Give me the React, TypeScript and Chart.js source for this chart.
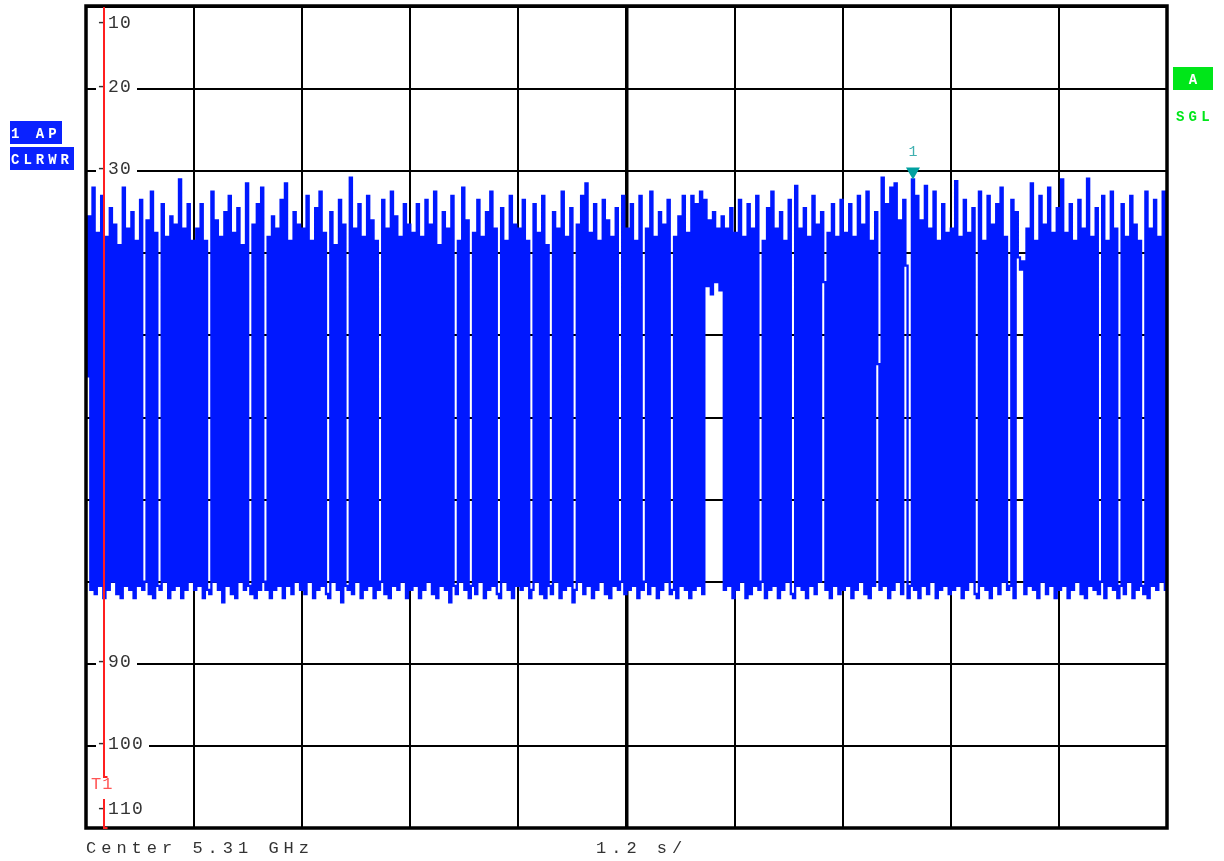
import React, { useEffect, useRef } from 'react';
import { Chart, registerables } from 'chart.js';

Chart.register(...registerables);

// Zero-span sweep: 1.2 s/div, 10 divisions
const SWEEP_TIME = 12;
const TIME_DIVS = [0, 1.2, 2.4, 3.6, 4.8, 6.0, 7.2, 8.4, 9.6, 10.8, 12.0];
const LEVEL_DIVS = [-10, -20, -30, -40, -50, -60, -70, -80, -90, -100, -110];
// level labels visible on the screen (the others are hidden beneath the trace)
const LEVEL_LABELS = ['-10', '-20', '-30', '', '', '', '', '', '-90', '-100', '-110'];

const T1_TIME = 0.2;
const MARKER_TIME = 9.18;
const MARKER_LEVEL = -31;

// Trace level (dBm) per sample, one array per time division
const div1 = [-55, -35.5, -81, -32, -81.5, -37.5, -80.5, -33, -82, -38, -81, -34.5, -80, -36.5, -81.5, -39, -82, -32, -80.5, -37, -81, -35, -82, -38.5, -80.5, -33.5, -81, -80, -36, -81.5, -32.5, -82, -37.5, -80.5, -81, -34, -80, -38, -82, -35.5, -81, -36.5, -80.5, -31, -82, -37, -81, -34, -80, -38.5];
const div2 = [-81, -37, -80.5, -34, -82, -38.5, -81, -81.5, -32.5, -80, -36, -81, -38, -82.5, -35, -80.5, -33, -81.5, -37.5, -82, -34.5, -80, -39, -81, -31.5, -80.5, -81.5, -36.5, -82, -34, -81, -32, -80, -81, -38, -82, -35.5, -81, -37, -80.5, -33.5, -82, -31.5, -80.5, -38.5, -81.5, -35, -80, -36.5, -81];
const div3 = [-37, -81.5, -33, -80, -38.5, -82, -34.5, -81, -32.5, -80.5, -37.5, -81.5, -82, -35, -80, -39, -81, -33.5, -82.5, -36.5, -80.5, -81, -30.8, -81.5, -37, -80, -34, -82, -38, -81, -33, -80.5, -36, -82, -38.5, -81, -80, -33.5, -81.5, -37, -82, -32.5, -80.5, -35.5, -81, -38, -80, -34, -82, -36.5];
const div4 = [-81, -37.5, -80.5, -34, -82, -38, -81, -33.5, -80, -36.5, -81.5, -32.5, -82, -39, -80.5, -35, -81, -37, -82.5, -33, -80.5, -81.5, -38.5, -80, -32, -81, -36, -82, -80.5, -37.5, -81.5, -33.5, -80, -38, -82, -35, -81, -32.5, -80.5, -37, -81.5, -82, -34.5, -80, -38.5, -81, -33, -82, -36.5, -80.5];
const div5 = [-37, -81, -33.5, -80.5, -38.5, -82, -81, -34, -80, -37.5, -81.5, -33, -82, -39, -80.5, -81.5, -35, -80, -37, -82, -32.5, -81, -38, -80.5, -34.5, -82.5, -81, -36.5, -80, -33, -81.5, -31.5, -80.5, -37.5, -82, -34, -81, -38.5, -80, -33.5, -81.5, -36, -82, -38, -80.5, -34.5, -81, -80, -33, -81.5];
const div6 = [-37, -81, -34, -80.5, -38.5, -82, -33, -81, -80, -37, -81.5, -32.5, -80.5, -38, -82, -35, -81, -36.5, -80, -33.5, -81.5, -81, -38, -82, -35.5, -80.5, -33, -81, -37.5, -82, -33, -81, -34, -80.5, -32.5, -81.5, -33.5, -44, -36, -45, -35, -43.5, -37, -44.5, -35.5, -81, -37, -80.5, -34.5, -82];
const div7 = [-37.5, -81, -33.5, -80, -38, -82, -34, -81.5, -37, -80.5, -33, -81, -80, -38.5, -82, -34.5, -81, -32.5, -80.5, -37, -82, -35, -81, -38.5, -80, -33.5, -81.5, -82, -31.8, -80.5, -37, -81, -34.5, -82, -38, -80.5, -33, -81.5, -36.5, -80, -35, -43.5, -81, -37.5, -82, -34, -80.5, -38, -81.5, -33.5];
const div8 = [-81, -37.5, -80.5, -34, -82, -38, -81, -33, -80, -36.5, -81.5, -32.5, -82, -38.5, -80.5, -35, -53.5, -81, -30.8, -80.5, -34, -82, -32, -81, -31.5, -80, -36, -81.5, -33.5, -41.5, -82, -80.5, -31, -81, -33, -82, -36, -80.5, -31.8, -81.5, -37, -80, -32.5, -82, -38.5, -81, -34, -80.5, -37.5, -81.5];
const div9 = [-37, -81, -31.2, -80.5, -38, -82, -33.5, -81, -37.5, -80, -34.5, -81.5, -82, -32.5, -80.5, -38.5, -81, -33, -82, -36.5, -80.5, -34, -81.5, -32, -80, -38, -81, -80.5, -33.5, -82, -35, -40.5, -42, -41, -81.5, -37, -80.5, -31.5, -81, -38.5, -82, -33, -80, -36.5, -81.5, -32, -80.5, -37.5, -82, -34.5];
const div10 = [-81, -31, -80.5, -37.5, -82, -34, -81, -38.5, -80, -33.5, -81.5, -37, -82, -30.9, -80.5, -38, -81, -34.5, -81.5, -80, -33, -82, -38.5, -80.5, -32.5, -81, -37, -82, -80.5, -34, -81.5, -38, -80, -33, -82, -36.5, -81, -38.5, -80.5, -81.5, -32.5, -82, -37, -80.5, -33.5, -81, -38, -80, -32.5, -81, -36];

const TRACE = [...div1, ...div2, ...div3, ...div4, ...div5, ...div6, ...div7, ...div8, ...div9, ...div10];

const TRACE_BLUE = '#0018ff';
const MONO = "'Liberation Mono', 'DejaVu Sans Mono', monospace";

const overlayPlugin = {
  id: 'saOverlay',
  beforeDatasetsDraw(chart: any) {
    const { ctx, scales } = chart;
    const y = scales.y;
    ctx.save();
    ctx.font = `18px ${MONO}`;
    (ctx as any).letterSpacing = '1.2px';
    ctx.textBaseline = 'alphabetic';
    LEVEL_DIVS.forEach((v, i) => {
      const text = LEVEL_LABELS[i];
      if (!text) return;
      const py = y.getPixelForValue(v);
      const base = i === 0 ? py + 21 : i === LEVEL_DIVS.length - 1 ? py - 14 : py + 3;
      const w = ctx.measureText(text).width;
      ctx.fillStyle = '#ffffff';
      ctx.fillRect(96, base - 14, w + 5, 17);
      ctx.fillStyle = '#333333';
      ctx.fillText(text, 96, base);
    });
    ctx.restore();
  },
  afterDatasetsDraw(chart: any) {
    const { ctx, chartArea, scales } = chart;
    const { left, right, top, bottom } = chartArea;
    const x = scales.x;
    const y = scales.y;
    ctx.save();

    // frame
    ctx.strokeStyle = '#000';
    ctx.lineWidth = 3.5;
    ctx.strokeRect(left, top - 1, right - left, bottom - top + 1);

    // T1 time line
    const tx = Math.round(x.getPixelForValue(T1_TIME));
    ctx.strokeStyle = '#ff1f1f';
    ctx.lineWidth = 2;
    ctx.beginPath();
    ctx.moveTo(tx, top);
    ctx.lineTo(tx, 777);
    ctx.lineTo(tx + 3.5, 777);
    ctx.moveTo(tx, 799);
    ctx.lineTo(tx, bottom);
    ctx.lineTo(tx + 3.5, bottom);
    ctx.stroke();
    ctx.font = `17px ${MONO}`;
    (ctx as any).letterSpacing = '1px';
    ctx.fillStyle = '#ff5555';
    ctx.textBaseline = 'alphabetic';
    ctx.fillText('T1', tx - 13, 789);

    // marker 1
    const mx = x.getPixelForValue(MARKER_TIME);
    const my = y.getPixelForValue(MARKER_LEVEL);
    ctx.fillStyle = '#00a0a0';
    ctx.beginPath();
    ctx.moveTo(mx - 7, my - 12);
    ctx.lineTo(mx + 7, my - 12);
    ctx.lineTo(mx, my);
    ctx.closePath();
    ctx.fill();
    ctx.font = `15px ${MONO}`;
    (ctx as any).letterSpacing = '0px';
    ctx.fillStyle = '#3fb0b0';
    ctx.textAlign = 'center';
    ctx.fillText('1', mx, my - 23);
    ctx.textAlign = 'left';

    // left trace info boxes
    ctx.fillStyle = '#0a22ff';
    ctx.fillRect(10, 121, 52, 23);
    ctx.fillRect(10, 147, 64, 23);
    ctx.font = `bold 14px ${MONO}`;
    (ctx as any).letterSpacing = '4px';
    ctx.fillStyle = '#ffffff';
    ctx.fillText('1 AP', 11, 138);
    ctx.fillText('CLRWR', 11, 163.5);

    // right status
    ctx.fillStyle = '#00e619';
    ctx.fillRect(1173, 67, 40, 23);
    ctx.fillStyle = '#ffffff';
    (ctx as any).letterSpacing = '0px';
    ctx.textAlign = 'center';
    ctx.fillText('A', 1193, 84);
    ctx.textAlign = 'left';
    (ctx as any).letterSpacing = '4.2px';
    ctx.fillStyle = '#00e619';
    ctx.fillText('SGL', 1176, 121);

    // bottom annotations
    ctx.font = `17px ${MONO}`;
    (ctx as any).letterSpacing = '5px';
    ctx.fillStyle = '#333333';
    ctx.fillText('Center 5.31 GHz', 86, 853);
    ctx.fillText('1.2 s/', 596, 853);

    ctx.restore();
  },
};

export default function App() {
  const canvasRef = useRef<HTMLCanvasElement | null>(null);

  useEffect(() => {
    const canvas = canvasRef.current;
    if (!canvas) return;
    const points = TRACE.map((v, i) => ({ x: (i * SWEEP_TIME) / (TRACE.length - 1), y: v }));
    const chart = new Chart(canvas, {
      type: 'line',
      data: {
        datasets: [
          {
            data: points,
            borderColor: TRACE_BLUE,
            borderWidth: 2.3,
            pointRadius: 0,
            stepped: true,
            fill: false,
            tension: 0,
          },
        ],
      },
      options: {
        animation: false,
        responsive: false,
        events: [],
        layout: { padding: { left: 86, right: 57, top: 7, bottom: 33 } },
        plugins: {
          legend: { display: false },
          tooltip: { enabled: false },
          title: { display: false },
        },
        scales: {
          x: {
            type: 'linear',
            min: 0,
            max: SWEEP_TIME,
            afterBuildTicks: (s: any) => {
              s.ticks = TIME_DIVS.map((v) => ({ value: v }));
            },
            ticks: { display: false },
            grid: {
              color: '#000',
              lineWidth: (c: any) => (c.tick && Math.abs(c.tick.value - 6) < 1e-6 ? 3.5 : 2),
              drawTicks: false,
            },
            border: { display: false },
          },
          y: {
            type: 'linear',
            min: -110,
            max: -10,
            afterBuildTicks: (s: any) => {
              s.ticks = LEVEL_DIVS.map((v) => ({ value: v }));
            },
            ticks: { display: false },
            grid: { color: '#000', lineWidth: 2, drawTicks: false },
            border: { display: false },
          },
        },
      } as any,
      plugins: [overlayPlugin],
    });
    return () => chart.destroy();
  }, []);

  return (
    <div style={{ position: 'fixed', left: 0, top: 0, width: 1224, height: 861, background: '#fff' }}>
      <canvas ref={canvasRef} width={1224} height={861} style={{ display: 'block' }} />
    </div>
  );
}
